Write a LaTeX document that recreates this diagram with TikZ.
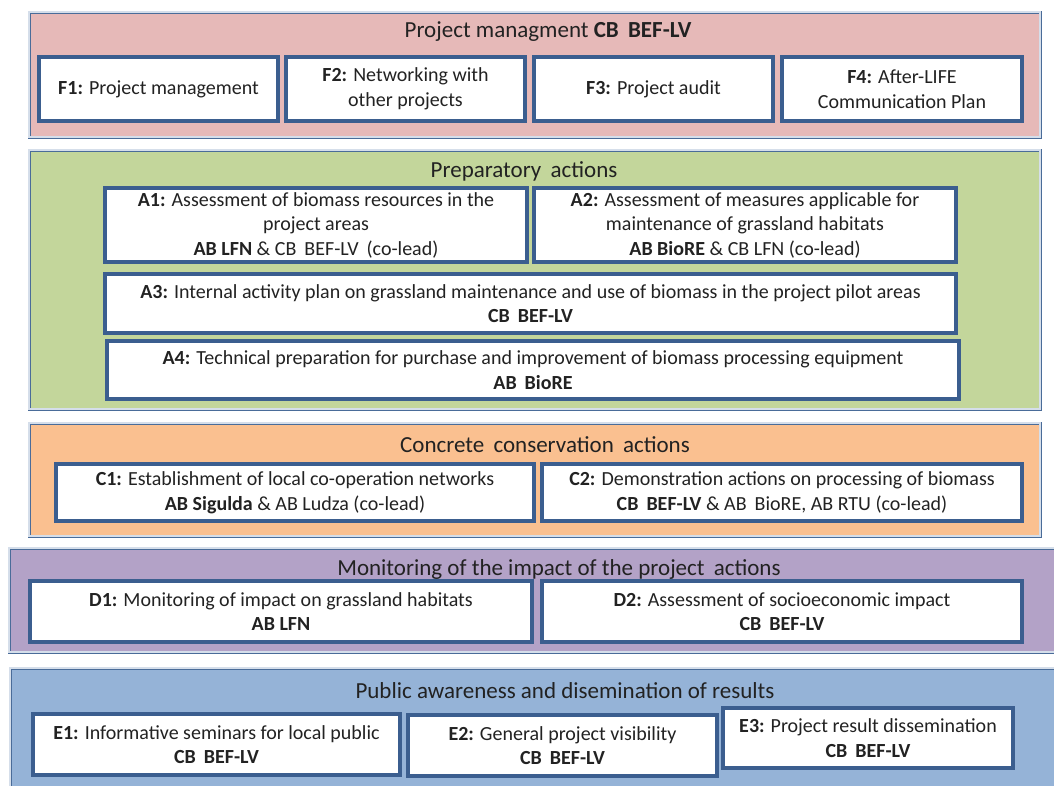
\documentclass[tikz,border=0pt]{standalone}
\usepackage{fontspec}
\setmainfont{Carlito}
\definecolor{pinkf}{HTML}{E6B9B8}
\definecolor{greenf}{HTML}{C3D69B}
\definecolor{orangef}{HTML}{FAC090}
\definecolor{purplef}{HTML}{B3A2C7}
\definecolor{bluef}{HTML}{95B3D7}
\definecolor{boxblue}{HTML}{3B5E8F}
\definecolor{frameblue}{HTML}{4A6C99}
\definecolor{framelight}{HTML}{D5DEEA}
\definecolor{textgray}{HTML}{222222}
\newcommand{\wsp}{\hspace{0.4em}}
\begin{document}
\begin{tikzpicture}[x=1pt,y=-1pt,
  frame/.style={draw=frameblue, double=framelight, double distance=1.2pt, line width=0.9pt, inner sep=0pt, outer sep=0pt},
  abox/.style={draw=boxblue, line width=3.1pt, fill=white, inner sep=1pt, align=center, font=\fontsize{20}{24.5}\selectfont, text=textgray},
  ttl/.style={font=\fontsize{23}{27}\selectfont, text=textgray, inner sep=0pt}]
\useasboundingbox (0,0) rectangle (1054,785);

% Project management
\node[frame, fill=pinkf, minimum width=1011pt, minimum height=125pt] (fF) at (534.5,74.5) {};
\node[ttl] (tF) at (548,32) {Project managment \textbf{CB\wsp BEF-LV}};
\node[abox, minimum width=239pt, minimum height=64pt] (f1) at (158.5,89) {\textbf{F1:} Project management};
\node[abox, minimum width=239pt, minimum height=64pt] (f2) at (405.5,89) {\textbf{F2:} Networking with\\other projects};
\node[abox, minimum width=239pt, minimum height=64pt] (f3) at (653.5,89) {\textbf{F3:} Project audit};
\node[abox, minimum width=240pt, minimum height=64pt] (f4) at (902,89) {\textbf{F4:} After-LIFE\\Communication Plan};

% Preparatory actions
\node[frame, fill=greenf, minimum width=1011pt, minimum height=259pt] (fA) at (534.5,279.5) {};
\node[ttl] (tA) at (524,171) {Preparatory\wsp actions};
\node[abox, minimum width=422pt, minimum height=74pt] (a1) at (316,225) {\textbf{A1:} Assessment of biomass resources in the\\project areas\\\textbf{AB LFN} \& CB\wsp BEF-LV\wsp (co-lead)};
\node[abox, minimum width=422pt, minimum height=74pt] (a2) at (745,225) {\textbf{A2:} Assessment of measures applicable for\\maintenance of grassland habitats\\\textbf{AB BioRE} \& CB LFN (co-lead)};
\node[abox, minimum width=851pt, minimum height=59pt] (a3) at (530.5,303.5) {\textbf{A3:} Internal activity plan on grassland maintenance and use of biomass in the project pilot areas\\\textbf{CB\wsp BEF-LV}};
\node[abox, minimum width=852pt, minimum height=58pt] (a4) at (533,370) {\textbf{A4:} Technical preparation for purchase and improvement of biomass processing equipment\\\textbf{AB\wsp BioRE}};

% Concrete conservation actions
\node[frame, fill=orangef, minimum width=1011pt, minimum height=113pt] (fC) at (534.5,479.5) {};
\node[ttl] (tC) at (545,445) {Concrete\wsp conservation\wsp actions};
\node[abox, minimum width=478pt, minimum height=57pt] (c1) at (295,492.5) {\textbf{C1:} Establishment of local co-operation networks\\\textbf{AB Sigulda} \& AB Ludza (co-lead)};
\node[abox, minimum width=480pt, minimum height=57pt] (c2) at (782,492.5) {\textbf{C2:} Demonstration actions on processing of biomass\\\textbf{CB\wsp BEF-LV} \& AB\wsp BioRE, AB RTU (co-lead)};

% Monitoring
\node[frame, fill=purplef, minimum width=1061pt, minimum height=104pt] (fD) at (539.5,600) {};
\node[ttl] (tD) at (559,569) {Monitoring of the impact of the project\wsp actions};
\node[abox, minimum width=502pt, minimum height=61pt] (d1) at (281,611.5) {\textbf{D1:} Monitoring of impact on grassland habitats\\\textbf{AB LFN}};
\node[abox, minimum width=480pt, minimum height=61pt] (d2) at (782,611.5) {\textbf{D2:} Assessment of socioeconomic impact\\\textbf{CB\wsp BEF-LV}};

% Public awareness
\node[frame, fill=bluef, minimum width=1060pt, minimum height=132pt] (fE) at (540,734) {};
\node[ttl] (tE) at (565,691) {Public awareness and disemination of results};
\node[abox, minimum width=367pt, minimum height=61pt] (e1) at (216.5,744.5) {\textbf{E1:} Informative seminars for local public\\\textbf{CB\wsp BEF-LV}};
\node[abox, minimum width=309pt, minimum height=61pt] (e2) at (562.5,745.5) {\textbf{E2:} General project visibility\\\textbf{CB\wsp BEF-LV}};
\node[abox, minimum width=290pt, minimum height=60pt] (e3) at (868,738) {\textbf{E3:} Project result dissemination\\\textbf{CB\wsp BEF-LV}};
\end{tikzpicture}
\end{document}
